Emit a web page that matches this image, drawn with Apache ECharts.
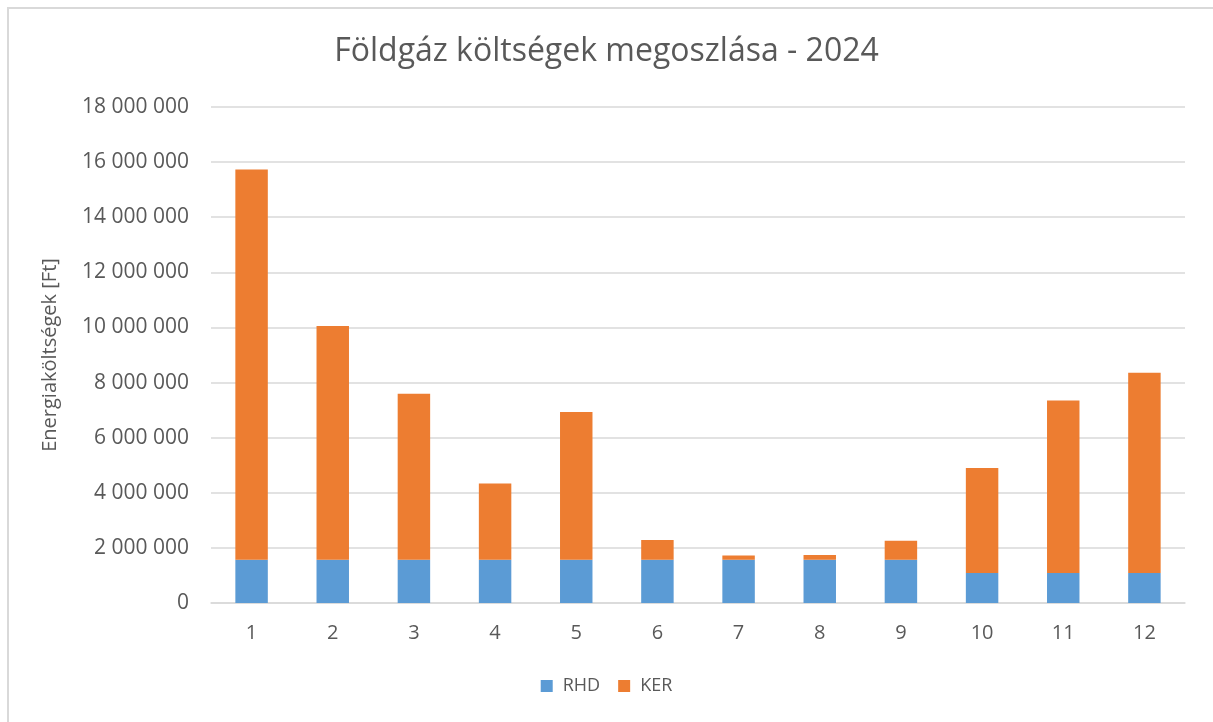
<!DOCTYPE html>
<html>
<head>
<meta charset="utf-8">
<script src="https://cdn.jsdelivr.net/npm/echarts@6/dist/echarts.min.js"></script>
<style>
html,body{margin:0;padding:0;background:#fff;overflow:hidden;}
#wrap{position:absolute;left:7px;top:7px;width:1220px;height:730px;border:2px solid #d9d9d9;}
#chart{width:1213px;height:722px;position:absolute;left:0;top:0;}
</style>
</head>
<body>
<div id="wrap"></div>
<div id="chart"></div>
<script>
const categories = ['1','2','3','4','5','6','7','8','9','10','11','12'];
const rhd = [1570000,1570000,1570000,1570000,1570000,1570000,1570000,1570000,1570000,1090000,1090000,1090000];
const ker = [14160000,8480000,6020000,2770000,5360000,720000,150000,170000,690000,3810000,6260000,7270000];
const yTicks = {min:0, max:18000000, interval:2000000};

const FONT = '"Open Sans", sans-serif';
function fmt(v){ return String(v).replace(/\B(?=(\d{3})+(?!\d))/g, ' '); }

const chart = echarts.init(document.getElementById('chart'), null, {renderer:'canvas'});
chart.setOption({
  animation:false,
  backgroundColor:'transparent',
  title:{
    text:'Földgáz költségek megoszlása - 2024',
    left:'center', top:31,
    textStyle:{fontFamily:FONT, fontSize:32, fontWeight:'normal', color:'#595959'}
  },
  legend:{
    bottom:22, left:'center',
    itemWidth:12, itemHeight:12, itemGap:18,
    icon:'rect',
    textStyle:{fontFamily:FONT, fontSize:18, color:'#595959', padding:[0,0,0,5]},
    data:['RHD','KER']
  },
  grid:{left:211, right:28, top:107, bottom:119},
  xAxis:{
    type:'category', data:categories,
    axisLine:{lineStyle:{color:'#d9d9d9', width:1.5}},
    axisTick:{show:false},
    axisLabel:{fontFamily:FONT, fontSize:20, color:'#595959', margin:20}
  },
  yAxis:{
    type:'value', min:yTicks.min, max:yTicks.max, interval:yTicks.interval,
    name:'Energiaköltségek [Ft]', nameLocation:'middle', nameGap:151, nameRotate:90,
    nameTextStyle:{fontFamily:FONT, fontSize:20, color:'#595959'},
    axisLine:{show:false}, axisTick:{show:false},
    axisLabel:{fontFamily:FONT, fontSize:21, color:'#595959', margin:22, formatter:fmt},
    splitLine:{lineStyle:{color:'#d9d9d9', width:1.5}}
  },
  series:[
    {name:'RHD', type:'bar', stack:'t', data:rhd, barWidth:'40%',
     itemStyle:{color:'#5b9bd5'}},
    {name:'KER', type:'bar', stack:'t', data:ker, barWidth:'40%',
     itemStyle:{color:'#ed7d31'}}
  ]
});
</script>
</body>
</html>
